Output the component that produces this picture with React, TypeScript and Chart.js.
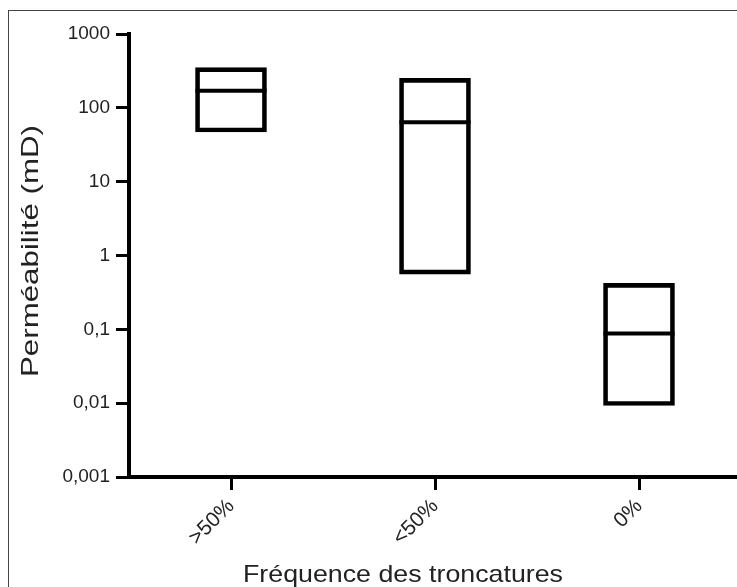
import React, { useEffect, useRef } from 'react';
import { Chart, registerables } from 'chart.js';

Chart.register(...registerables);

// ---- data ----
const categories = ['>50%', '<50%', '0%'];
const boxLow = [47, 0.56, 0.0093];
const boxHigh = [350, 250, 0.42];
const boxMedian = [170, 64, 0.088];
const yTickValues = [0.001, 0.01, 0.1, 1, 10, 100, 1000];
const yTickLabels = ['0,001', '0,01', '0,1', '1', '10', '100', '1000'];
const yTitle = 'Perméabilité (mD)';
const xTitle = 'Fréquence des troncatures';

const FONT = '"Liberation Sans", Arial, sans-serif';
const TEXT = '#222';

const titlesPlugin = {
  id: 'stretchedTitles',
  afterDraw(chart: any) {
    const ctx = chart.ctx as CanvasRenderingContext2D;
    const draw = (text: string, x: number, y: number, angle: number, length: number) => {
      ctx.save();
      ctx.font = `24px ${FONT}`;
      ctx.fillStyle = TEXT;
      ctx.textAlign = 'center';
      ctx.textBaseline = 'alphabetic';
      ctx.translate(x, y);
      ctx.rotate(angle);
      const w = ctx.measureText(text).width;
      ctx.scale(length / w, 1);
      ctx.fillText(text, 0, 0);
      ctx.restore();
    };
    draw(yTitle, 38, 251, -Math.PI / 2, 252);
    draw(xTitle, 403, 582, 0, 320);
  },
};

export default function App() {
  const ref = useRef<HTMLCanvasElement | null>(null);

  useEffect(() => {
    if (!ref.current) return;
    const chart = new Chart(ref.current, {
      type: 'bar',
      data: {
        labels: categories,
        datasets: [
          {
            type: 'line',
            label: 'Médiane',
            data: boxMedian,
            showLine: false,
            pointStyle: 'line',
            pointRadius: 35.5,
            pointHoverRadius: 35.5,
            pointBorderWidth: 4,
            pointBorderColor: '#000',
            pointBackgroundColor: '#000',
            clip: false,
            order: 0,
          } as any,
          {
            type: 'bar',
            label: 'Intervalle',
            data: categories.map((_, i) => [boxLow[i], boxHigh[i]]),
            backgroundColor: 'rgba(255,255,255,0)',
            borderColor: '#000',
            borderWidth: 4,
            borderSkipped: false,
            barThickness: 71,
            order: 1,
          } as any,
        ],
      },
      options: {
        animation: false,
        responsive: false,
        maintainAspectRatio: false,
        events: [],
        layout: { autoPadding: false, padding: { left: 0, top: 34, right: 19, bottom: 0 } },
        plugins: {
          legend: { display: false },
          tooltip: { enabled: false },
          title: { display: false },
        },
        scales: {
          x: {
            type: 'category',
            offset: true,
            grid: {
              offset: false,
              drawOnChartArea: false,
              drawTicks: true,
              tickLength: 13,
              tickWidth: 3,
              tickColor: '#000',
            },
            border: { display: true, width: 4, color: '#000' },
            ticks: {
              autoSkip: false,
              minRotation: 45,
              maxRotation: 45,
              padding: 4,
              color: TEXT,
              font: { family: FONT, size: 21 },
            },
            afterFit: (s: any) => {
              s.height = 110;
            },
          },
          y: {
            type: 'logarithmic',
            min: 0.001,
            max: 1000,
            afterBuildTicks: (s: any) => {
              s.ticks = yTickValues.map((v) => ({ value: v }));
            },
            grid: {
              drawOnChartArea: false,
              drawTicks: true,
              tickLength: 13,
              tickWidth: 3,
              tickColor: '#000',
            },
            border: { display: true, width: 4, color: '#000' },
            ticks: {
              autoSkip: false,
              padding: 6,
              color: TEXT,
              font: { family: FONT, size: 19 },
              callback: (_v: any, i: number) => yTickLabels[i],
            },
            afterFit: (s: any) => {
              s.width = 129;
            },
          },
        },
      } as any,
      plugins: [titlesPlugin],
    });
    return () => chart.destroy();
  }, []);

  return (
    <div
      style={{
        position: 'absolute',
        left: 0,
        top: 0,
        width: 737,
        height: 587,
        overflow: 'hidden',
        background: '#fff',
      }}
    >
      <div
        style={{
          position: 'absolute',
          left: 8,
          top: 10,
          width: 800,
          height: 700,
          borderLeft: '1px solid #444',
          borderTop: '1px solid #444',
        }}
      />
      <canvas
        ref={ref}
        width={760}
        height={587}
        style={{ position: 'absolute', left: 0, top: 0, width: 760, height: 587 }}
      />
    </div>
  );
}
